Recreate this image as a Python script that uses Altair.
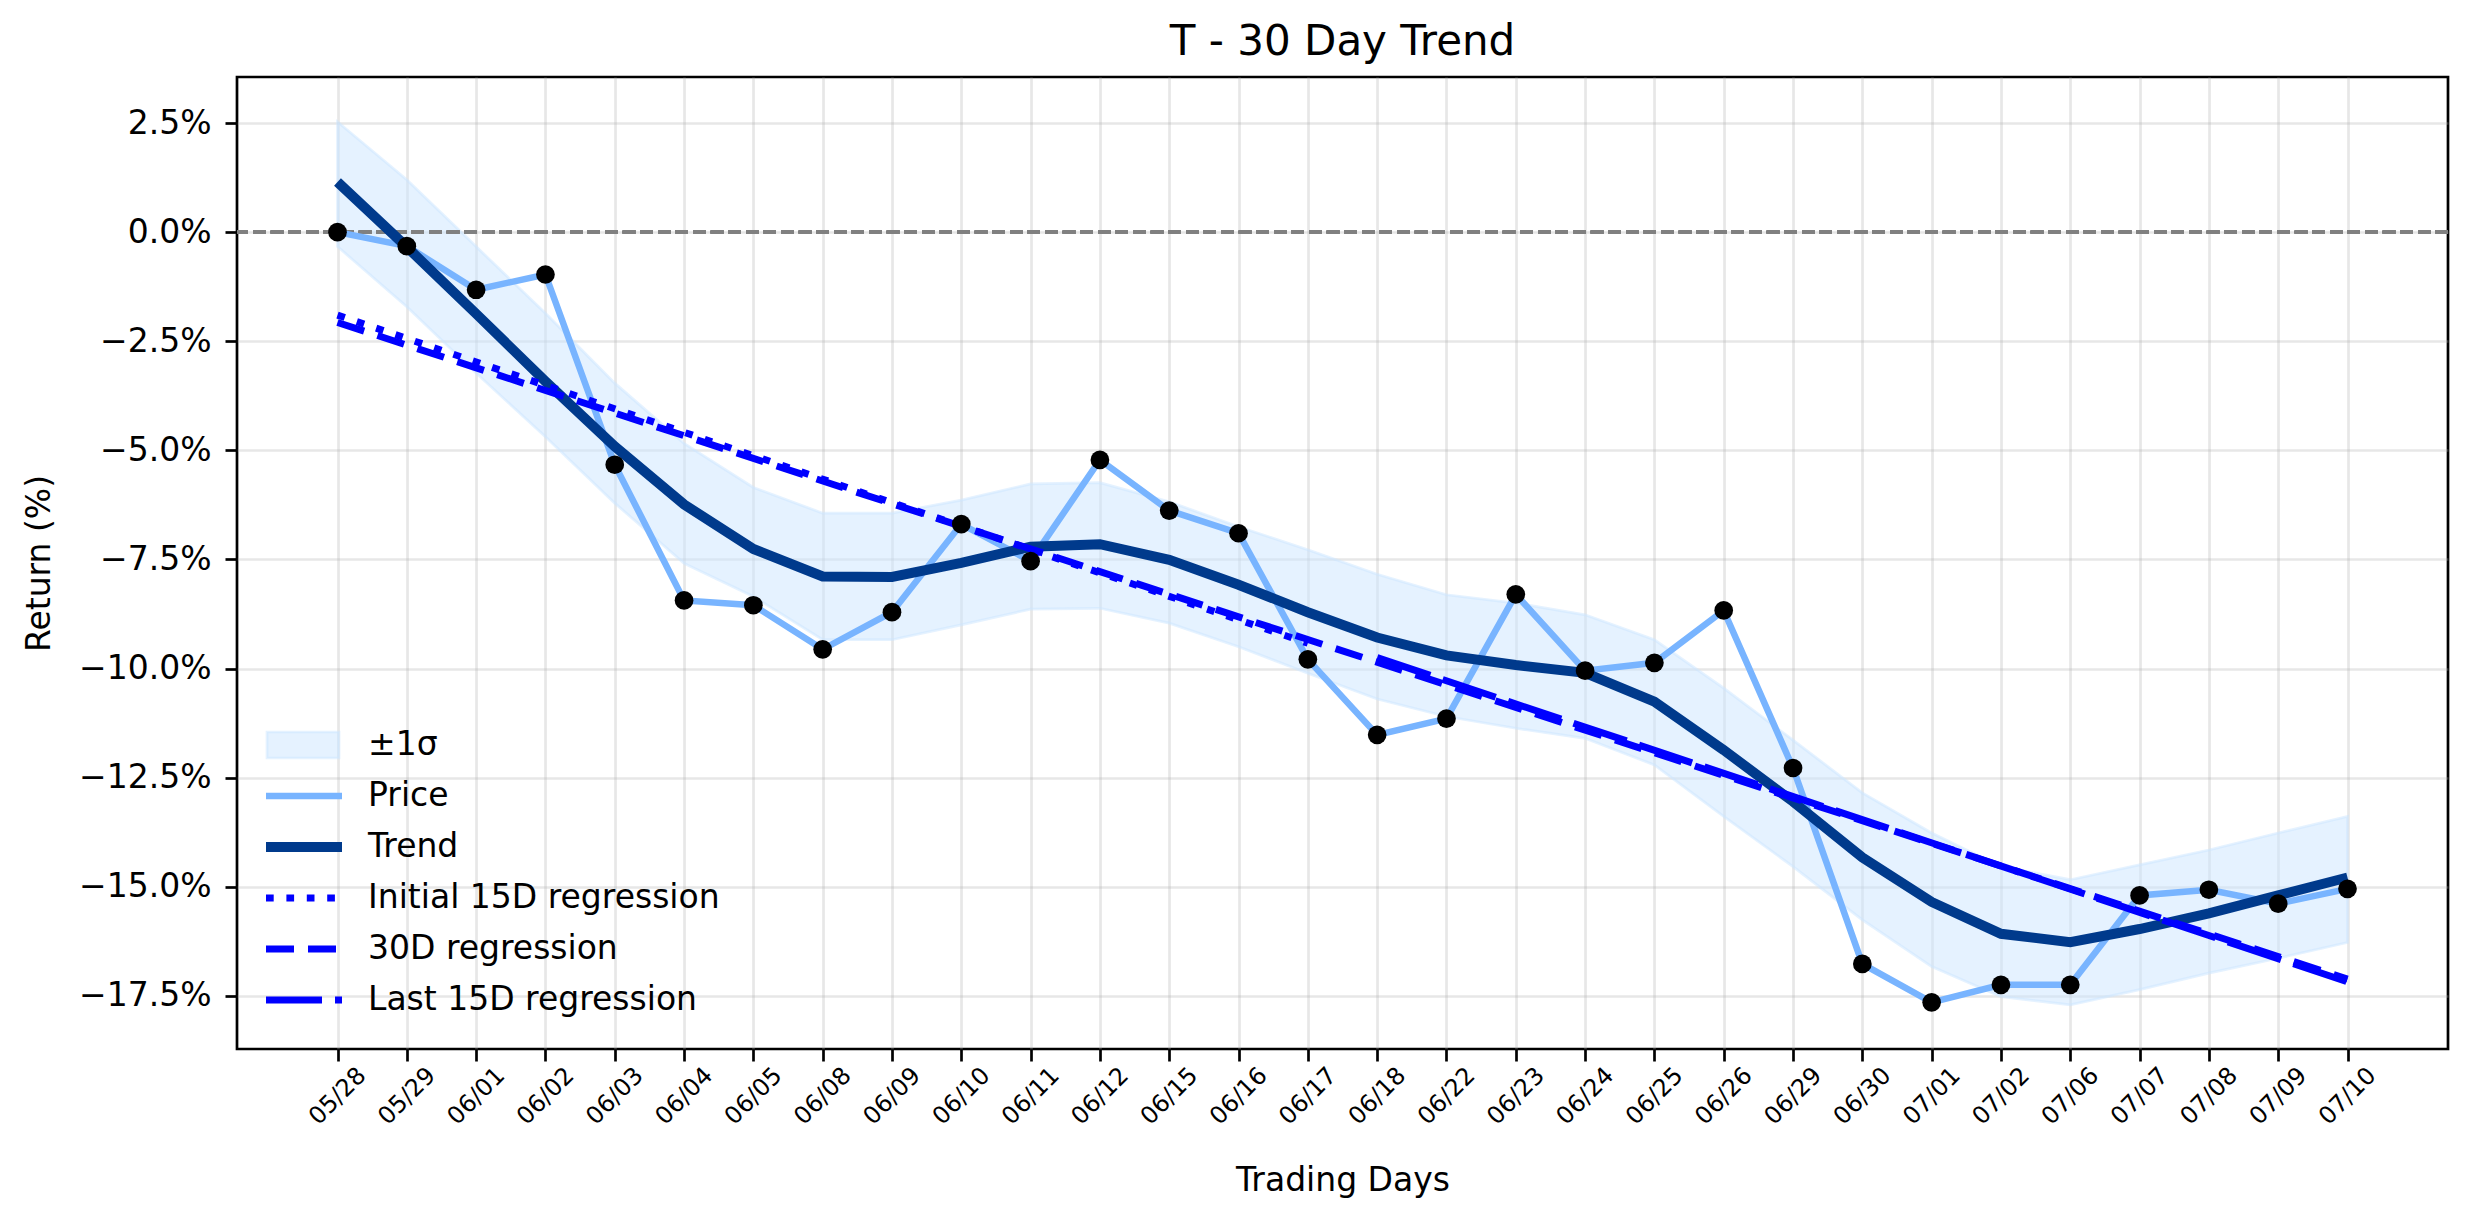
import json

import altair as alt
import pandas as pd

# ---- data -------------------------------------------------------------
dates = ["05/28", "05/29", "06/01", "06/02", "06/03", "06/04", "06/05", "06/08",
         "06/09", "06/10", "06/11", "06/12", "06/15", "06/16", "06/17", "06/18",
         "06/22", "06/23", "06/24", "06/25", "06/26", "06/29", "06/30", "07/01",
         "07/02", "07/06", "07/07", "07/08", "07/09", "07/10"]

price = [0.00, -0.32, -1.32, -0.97, -5.33, -8.44, -8.55, -9.56, -8.71, -6.69,
         -7.54, -5.22, -6.38, -6.90, -9.79, -11.52, -11.15, -8.30, -10.05, -9.87,
         -8.67, -12.28, -16.77, -17.65, -17.25, -17.25, -15.20, -15.07, -15.39, -15.05]

trend = [1.15, -0.34, -1.87, -3.42, -4.91, -6.24, -7.26, -7.89, -7.90, -7.58,
         -7.21, -7.15, -7.51, -8.08, -8.71, -9.29, -9.70, -9.92, -10.10, -10.76,
         -11.87, -13.05, -14.33, -15.35, -16.08, -16.27, -15.97, -15.61, -15.20, -14.79]

band_upper = [2.53, 1.20, -0.33, -1.86, -3.46, -4.84, -5.85, -6.44, -6.44, -6.14,
              -5.77, -5.74, -6.18, -6.75, -7.28, -7.84, -8.31, -8.50, -8.77, -9.34,
              -10.45, -11.64, -12.85, -13.77, -14.54, -14.84, -14.50, -14.16, -13.77, -13.39]

band_lower = [-0.33, -1.71, -3.23, -4.69, -6.21, -7.59, -8.35, -9.34, -9.34, -9.00,
              -8.64, -8.62, -8.96, -9.50, -10.11, -10.70, -11.10, -11.37, -11.60, -12.21,
              -13.39, -14.54, -15.76, -16.83, -17.52, -17.71, -17.36, -16.98, -16.64, -16.28]

# regression segments: first day index, last day index, value at first, value at last
reg_initial = [0, 14, -1.90, -9.42]
reg_full = [0, 29, -2.07, -17.12]
reg_last = [15, 29, -9.75, -17.18]

y_ticks = [2.5, 0.0, -2.5, -5.0, -7.5, -10.0, -12.5, -15.0, -17.5]

title_text = "T - 30 Day Trend"
legend_labels = ["±1σ", "Price", "Trend", "Initial 15D regression",
                 "30D regression", "Last 15D regression"]

# ---- styling ----------------------------------------------------------
FONT = "DejaVu Sans"
W, H = 2211, 972
BAND_FILL = "#cce5ff"
PRICE_COLOR = "#78b4ff"
TREND_COLOR = "#003a8c"
REG_COLOR = "#0000ff"

DOT = [7.7, 12.7]
DASH = [28, 14]
LONG_DASH = [56, 13]

n = len(dates)
series = pd.DataFrame({
    "idx": list(range(n)),
    "price": price,
    "trend": trend,
    "upper": band_upper,
    "lower": band_lower,
})


def segment(spec):
    i0, i1, v0, v1 = spec
    return pd.DataFrame({"idx": [i0, i1], "value": [v0, v1]})


# day index on a linear scale, with a 5% margin on both sides
x_margin = 0.05 * (n - 1)
x_enc = alt.X(
    "idx:Q",
    scale=alt.Scale(domain=[-x_margin, (n - 1) + x_margin], nice=False, zero=False),
    axis=alt.Axis(
        title="Trading Days",
        values=list(range(n)),
        labelExpr=f"{json.dumps(dates)}[datum.value]",
        labelAngle=-45,
        labelAlign="center",
        labelBaseline="middle",
        labelPadding=35,
        labelFontSize=24,
        labelFlush=False,
        labelOverlap=False,
        titleX=W / 2,
        titleY=131,
        titleBaseline="middle",
        titleAlign="center",
    ),
)

y_scale = alt.Scale(domain=[-18.72, 3.556], nice=False, zero=False)
y_axis = alt.Axis(
    title="Return (%)",
    values=y_ticks,
    labelExpr="format(datum.value, '.1f') + '%'",
    labelPadding=14,
    titleAngle=270,
    titleX=-198,
    titleY=H / 2,
    titleAlign="center",
    titleBaseline="middle",
)

base = alt.Chart(series)

band = base.mark_area(
    fill=BAND_FILL, fillOpacity=0.5, stroke=BAND_FILL, strokeOpacity=0.5, strokeWidth=2.7
).encode(
    x=x_enc,
    y=alt.Y("lower:Q", scale=y_scale, axis=y_axis),
    y2="upper:Q",
)

zero_line = alt.Chart(series).mark_rule(
    color="#808080", strokeWidth=3.3, strokeDash=[12.3, 5.3]
).encode(y=alt.datum(0))

price_line = base.mark_line(color=PRICE_COLOR, strokeWidth=6.5).encode(
    x=x_enc, y=alt.Y("price:Q", scale=y_scale), order="idx:Q"
)

trend_line = base.mark_line(color=TREND_COLOR, strokeWidth=10).encode(
    x=x_enc, y=alt.Y("trend:Q", scale=y_scale), order="idx:Q"
)


def reg_layer(spec, dash):
    return alt.Chart(segment(spec)).mark_line(
        color=REG_COLOR, strokeWidth=7, strokeDash=dash, strokeCap="butt"
    ).encode(x=x_enc, y=alt.Y("value:Q", scale=y_scale), order="idx:Q")


reg_a = reg_layer(reg_initial, DOT)
reg_b = reg_layer(reg_full, DASH)
reg_c = reg_layer(reg_last, LONG_DASH)

points = base.mark_circle(size=350, color="black", opacity=1).encode(
    x=x_enc, y=alt.Y("price:Q", scale=y_scale)
)

# ---- title and legend (lower left, no frame) ---------------------------
one = pd.DataFrame({"k": [0]})

title_mark = alt.Chart(one).mark_text(
    text=title_text, font=FONT, fontSize=42, align="center", baseline="middle", color="black"
).encode(x=alt.value(W / 2), y=alt.value(-35))

leg_x0, leg_x1, leg_text_x = 29, 105, 131
leg_row0, leg_step = 668, 51


def leg_y(k):
    return leg_row0 + k * leg_step


legend_layers = [
    alt.Chart(one).mark_rect(
        fill=BAND_FILL, fillOpacity=0.5, stroke=BAND_FILL, strokeOpacity=0.5, strokeWidth=2.7
    ).encode(
        x=alt.value(leg_x0 + 1), x2=alt.value(leg_x1 - 3),
        y=alt.value(leg_y(0) - 13), y2=alt.value(leg_y(0) + 13),
    )
]

line_styles = [
    (PRICE_COLOR, 6.5, None),
    (TREND_COLOR, 10, None),
    (REG_COLOR, 7, DOT),
    (REG_COLOR, 7, DASH),
    (REG_COLOR, 7, LONG_DASH),
]
for k, (color, width, dash) in enumerate(line_styles, start=1):
    kw = dict(color=color, strokeWidth=width, strokeCap="butt")
    if dash:
        kw["strokeDash"] = dash
    legend_layers.append(
        alt.Chart(one).mark_rule(**kw).encode(
            x=alt.value(leg_x0), x2=alt.value(leg_x1), y=alt.value(leg_y(k))
        )
    )

for k, label in enumerate(legend_labels):
    legend_layers.append(
        alt.Chart(one).mark_text(
            text=label, font=FONT, fontSize=33, align="left", baseline="middle", color="black"
        ).encode(x=alt.value(leg_text_x), y=alt.value(leg_y(k)))
    )

chart = alt.layer(
    band, zero_line, price_line, trend_line, reg_a, reg_b, reg_c, points,
    title_mark, *legend_layers
).properties(
    width=W,
    height=H,
    autosize=alt.AutoSizeParams(type="none"),
    padding={"left": 237, "top": 77, "right": 26, "bottom": 175},
).configure(
    font=FONT,
).configure_view(
    stroke="black", strokeWidth=2.7,
).configure_axis(
    labelFont=FONT, titleFont=FONT, labelFontSize=33, titleFontSize=33,
    labelColor="black", titleColor="black", titleFontWeight="normal",
    grid=True, gridColor="#b0b0b0", gridOpacity=0.3, gridWidth=2.7,
    domain=False, tickColor="black", tickSize=12, tickWidth=2.7,
)

chart.save("out.html", embed_options={"renderer": "svg", "actions": False})
